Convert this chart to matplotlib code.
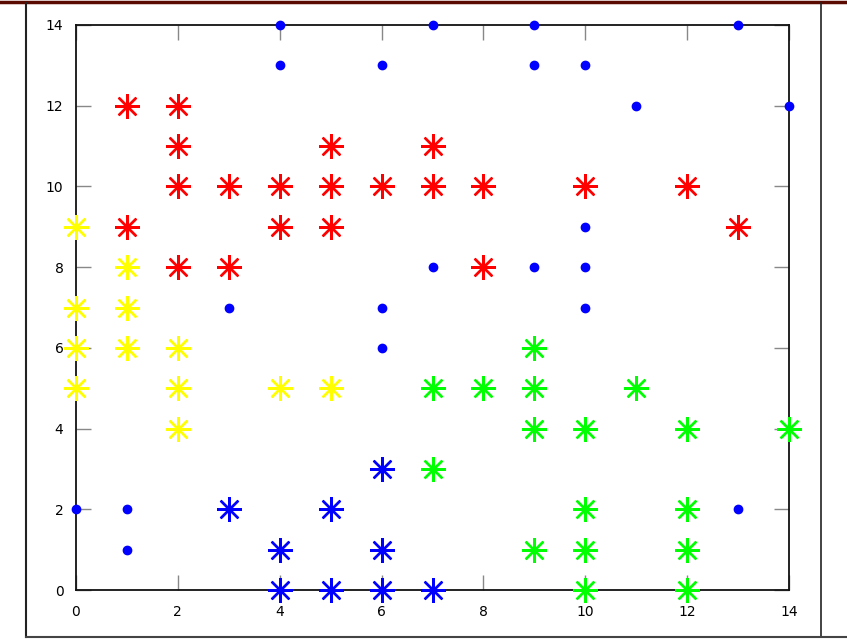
import matplotlib.pyplot as plt
from matplotlib.lines import Line2D

# point groups
red_x = [1, 2, 2, 5, 7, 2, 3, 4, 5, 6, 7, 8, 10, 12, 1, 4, 5, 13, 2, 3, 8]
red_y = [12, 12, 11, 11, 11, 10, 10, 10, 10, 10, 10, 10, 10, 10, 9, 9, 9, 9, 8, 8, 8]

yellow_x = [0, 1, 0, 1, 0, 1, 2, 0, 2, 4, 5, 2]
yellow_y = [9, 8, 7, 7, 6, 6, 6, 5, 5, 5, 5, 4]

green_x = [9, 7, 8, 9, 11, 9, 10, 12, 14, 7, 10, 12, 9, 10, 12, 10, 12]
green_y = [6, 5, 5, 5, 5, 4, 4, 4, 4, 3, 2, 2, 1, 1, 1, 0, 0]

blue_x = [6, 3, 5, 4, 6, 4, 5, 6, 7]
blue_y = [3, 2, 2, 1, 1, 0, 0, 0, 0]

dot_x = [4, 7, 9, 13, 4, 6, 9, 10, 11, 14, 10, 7, 9, 10, 3, 6, 10, 6, 0, 1, 13, 1]
dot_y = [14, 14, 14, 14, 13, 13, 13, 13, 12, 12, 9, 8, 8, 8, 7, 7, 7, 6, 2, 2, 2, 1]

ticks = [0, 2, 4, 6, 8, 10, 12, 14]

W, H = 847, 641
fig = plt.figure(figsize=(W / 100, H / 100), dpi=100)
ax = fig.add_axes([76 / W, 1 - 590 / H, (789 - 76) / W, (590 - 25) / H])

star = (8, 2, 0)
groups = [
    (red_x, red_y, "#ff0000"),
    (yellow_x, yellow_y, "#ffff00"),
    (green_x, green_y, "#00ff00"),
    (blue_x, blue_y, "#0000ff"),
]
for xs, ys, c in groups:
    ax.plot(xs, ys, linestyle="none", marker=star, markersize=18,
            markeredgewidth=1.7, color=c, clip_on=False, zorder=3)

ax.plot(dot_x, dot_y, linestyle="none", marker="o", markersize=6,
        color="#0000ff", clip_on=False, zorder=3)

ax.set_xlim(0, 14)
ax.set_ylim(0, 14)
ax.set_xticks(ticks)
ax.set_yticks(ticks)
ax.tick_params(direction="in", length=11, width=1, color="#888888",
               top=True, right=True, labelsize=10, pad=9)
ax.tick_params(axis="x", pad=11)
for s in ax.spines.values():
    s.set_linewidth(1.3)
    s.set_color("#111111")

# window-like frame around the plot
fig.add_artist(Line2D([0, 1], [1 - 1.5 / H, 1 - 1.5 / H], color="#5a0a00", lw=2.5))
fig.add_artist(Line2D([26 / W, 26 / W], [1 - 3 / H, 1 - 637 / H], color="#222222", lw=1.5))
fig.add_artist(Line2D([821 / W, 821 / W], [1 - 3 / H, 1 - 637 / H], color="#222222", lw=1.2))
fig.add_artist(Line2D([26 / W, 1], [1 - 637 / H, 1 - 637 / H], color="#444444", lw=1.5))

fig.savefig("out.png", dpi=100)
